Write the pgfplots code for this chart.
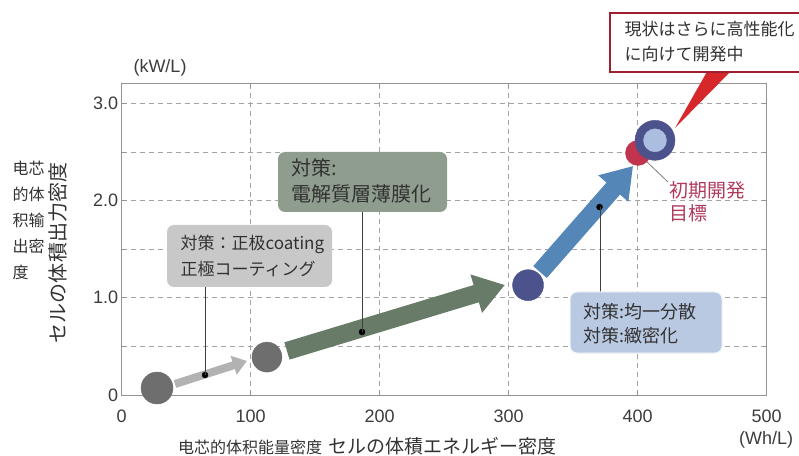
\documentclass[border=0pt]{standalone}
\usepackage{pgfplots}
\pgfplotsset{compat=1.18}
\usetikzlibrary{arrows.meta}
\usepackage{fontspec}
\setmainfont{Liberation Sans}
\newfontfamily\jp{Noto Sans CJK JP}
\newfontfamily\zh{Noto Sans CJK SC}

\definecolor{gridc}{RGB}{165,165,165}
\definecolor{tickc}{RGB}{60,60,60}
\definecolor{txtc}{RGB}{50,50,50}
\definecolor{c1grey}{RGB}{110,110,110}
\definecolor{arrgrey}{RGB}{178,178,178}
\definecolor{arrgreen}{RGB}{104,122,104}
\definecolor{arrblue}{RGB}{84,134,184}
\definecolor{navy}{RGB}{76,82,140}
\definecolor{lightblue}{RGB}{172,190,224}
\definecolor{redc}{RGB}{192,52,78}
\definecolor{box1}{RGB}{200,200,200}
\definecolor{box2}{RGB}{143,157,143}
\definecolor{box3}{RGB}{186,201,226}
\definecolor{callred}{RGB}{158,32,48}
\definecolor{wedge}{RGB}{214,40,42}
\definecolor{pinktxt}{RGB}{176,58,92}

\begin{document}
\begin{tikzpicture}
\useasboundingbox (0,0) rectangle (799pt,455pt);
\begin{axis}[
  at={(121.7pt,60pt)}, anchor=south west,
  scale only axis, width=645pt, height=312pt,
  xmin=0, xmax=500, ymin=0, ymax=3.21,
  xtick={0,100,...,500},
  ytick={0,1,2,3}, yticklabels={0,1.0,2.0,3.0},
  minor ytick={0.5,1.5,2.5},
  grid=both,
  major grid style={gridc, line width=0.8pt, dash pattern=on 5pt off 4pt},
  minor grid style={gridc, line width=0.8pt, dash pattern=on 5pt off 4pt},
  axis line style={draw=gray!85, line width=0.9pt},
  tick align=inside, major tick length=5pt, minor tick length=4pt,
  tick style={gray!85, line width=0.8pt},
  /pgf/number format/assume math mode=true,
  tick label style={font=\fontsize{18}{18}\selectfont, text=tickc},
  xticklabel style={yshift=-11pt},
  clip=false,
]
% arrows
\addplot[no marks, line width=8pt, color=arrgrey, -{Triangle[length=14pt,width=19pt]}]
  coordinates {(41.3,0.113) (97.1,0.350)};
\addplot[no marks, line width=18pt, color=arrgreen, -{Triangle[length=30pt,width=38pt]}]
  coordinates {(128.1,0.453) (297.1,1.132)};
\addplot[no marks, line width=18pt, color=arrblue, -{Triangle[length=30pt,width=38pt]}]
  coordinates {(324.3,1.265) (396.4,2.356)};
% circles
\addplot[only marks, mark=*, mark size=16pt, color=c1grey] coordinates {(27.4,0.072)};
\addplot[only marks, mark=*, mark size=15pt, color=c1grey] coordinates {(112.6,0.39)};
\addplot[only marks, mark=*, mark size=15.5pt, color=navy] coordinates {(315,1.13)};
\addplot[only marks, mark=*, mark size=12.5pt, color=redc] coordinates {(400.2,2.49)};
\addplot[only marks, mark=*, mark size=20pt, color=navy] coordinates {(413.4,2.62)};
\addplot[only marks, mark=*, mark size=11.5pt, color=lightblue] coordinates {(413.4,2.62)};
% leader dots
\addplot[only marks, mark=*, mark size=3pt, color=black] coordinates {(64.6,0.206) (186.3,0.648) (370.4,1.934)};
\end{axis}

\begin{scope}[shift={(0,455pt)}, x=1pt, y=-1pt]
% leader lines
\draw[black!75, line width=1pt] (205,375) -- (205,287);
\draw[black!75, line width=1pt] (362,332) -- (362,212);
\draw[black!75, line width=1pt] (600,207) -- (600,292);
% boxes
\fill[box1, rounded corners=7pt] (167,225) rectangle (332,287);
\node[anchor=west, align=left, text=txtc, font={\jp\fontsize{17}{26}\selectfont}]
  at (177,256) {対策：{\zh 正极coating}\\正極コーティング};
\fill[box2, rounded corners=7pt] (278,152) rectangle (447,212);
\node[anchor=west, align=left, text=txtc, font={\jp\fontsize{20}{26}\selectfont}]
  at (288,181) {対策:\\電解質層薄膜化};
\filldraw[fill=box3, draw=white!80!box3, line width=1pt, rounded corners=7pt] (570,292) rectangle (722,353);
\node[anchor=west, align=left, text=txtc, font={\jp\fontsize{18}{24}\selectfont}]
  at (580,324) {対策:均一分散\\対策:緻密化};
% callout
\fill[wedge] (708,70) -- (732,70) -- (675,128) -- cycle;
\filldraw[fill=white, draw=callred, line width=2.5pt] (610,13) rectangle (830,72);
\node[anchor=west, align=left, text=txtc, font={\jp\fontsize{17}{25}\selectfont}]
  at (621,42) {現状はさらに高性能化\\に向けて開発中};
% initial target label
\draw[gray, line width=0.8pt] (647,162) -- (668,182);
\node[anchor=west, align=left, text=pinktxt, font={\jp\fontsize{19}{23}\selectfont}]
  at (666,202) {初期開発\\目標};
% units
\node[text=tickc, font=\fontsize{18}{18}\selectfont] at (160,68) {(kW/L)};
\node[text=tickc, font=\fontsize{18}{18}\selectfont] at (766,440) {(Wh/L)};
% axis titles
\node[anchor=west, text=txtc, inner sep=0pt] at (178,446)
  {{\zh\fontsize{16}{16}\selectfont 电芯的体积能量密度}\hspace{6pt}{\jp\fontsize{19}{19}\selectfont セルの体積エネルギー密度}};
\node[rotate=90, text=txtc, font={\jp\fontsize{20}{20}\selectfont}] at (58,253) {セルの体積出力密度};
\node[anchor=west, align=left, text=txtc, font={\zh\fontsize{16}{26}\selectfont}]
  at (9,220) {电芯\\的体\\积输\\出密\\度};
\end{scope}
\end{tikzpicture}
\end{document}
